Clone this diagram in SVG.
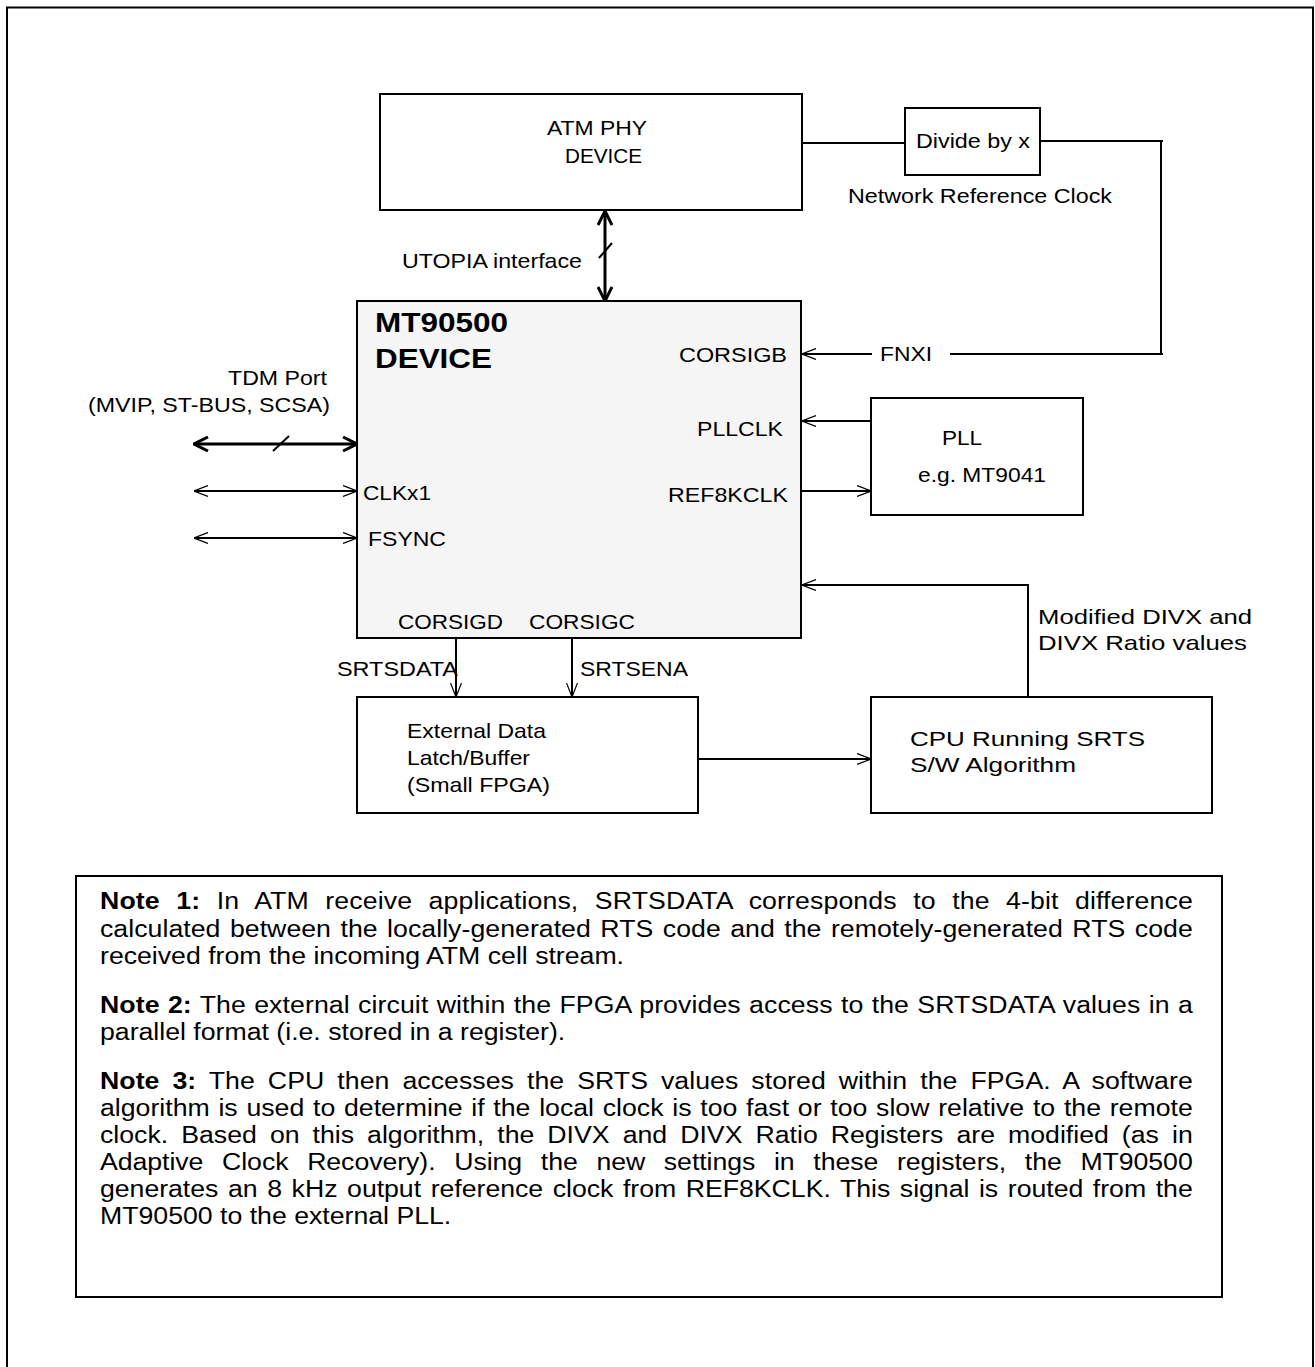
<svg xmlns="http://www.w3.org/2000/svg" width="1315" height="1367" viewBox="0 0 1315 1367">
<style>
.box{fill:#fff;stroke:#000;stroke-width:2}
.dev{fill:#f5f5f5;stroke:#000;stroke-width:2}
.ln{fill:none;stroke:#000;stroke-width:2}
.thk{fill:none;stroke:#000;stroke-width:3}
.t{font-family:"Liberation Sans",Arial,sans-serif;font-size:21px;fill:#000}
.tb{font-family:"Liberation Sans",Arial,sans-serif;font-size:28px;font-weight:bold;fill:#000}
.n{font-family:"Liberation Sans",Arial,sans-serif;font-size:23px;fill:#000}
.b{font-weight:bold}
</style>
<defs>
<marker id="arr" viewBox="0 0 14 12" refX="14" refY="6" markerWidth="14" markerHeight="12" orient="auto-start-reverse" markerUnits="userSpaceOnUse">
<path d="M0,0.5 L14,6 L0,11.5" fill="none" stroke="#000" stroke-width="1.2"/>
</marker>
<marker id="arrT" viewBox="0 0 16 16" refX="15" refY="8" markerWidth="16" markerHeight="16" orient="auto-start-reverse" markerUnits="userSpaceOnUse">
<path d="M1,1 L15,8 L1,15" fill="none" stroke="#000" stroke-width="3"/>
</marker>
</defs>
<rect width="1315" height="1367" fill="#fff"/>
<path d="M7,1367 V7.5 H1313 V1367" fill="none" stroke="#000" stroke-width="2"/>

<g id="connectors">
<line class="ln" x1="802" y1="143" x2="905" y2="143"/>
<line class="ln" x1="1040" y1="141" x2="1163" y2="141"/>
<line class="ln" x1="1161" y1="141" x2="1161" y2="355"/>
<line class="ln" x1="950" y1="354" x2="1163" y2="354"/>
<line class="ln" x1="872" y1="354" x2="802" y2="354" marker-end="url(#arr)"/>
<line class="thk" x1="605" y1="211" x2="605" y2="301" marker-start="url(#arrT)" marker-end="url(#arrT)"/>
<line class="ln" x1="599" y1="258" x2="612" y2="243"/>
<line class="thk" x1="194" y1="444" x2="357" y2="444" marker-start="url(#arrT)" marker-end="url(#arrT)"/>
<line class="ln" x1="273" y1="451" x2="289" y2="436"/>
<line class="ln" x1="194" y1="491" x2="357" y2="491" marker-start="url(#arr)" marker-end="url(#arr)"/>
<line class="ln" x1="194" y1="538" x2="357" y2="538" marker-start="url(#arr)" marker-end="url(#arr)"/>
<line class="ln" x1="871" y1="421" x2="802" y2="421" marker-end="url(#arr)"/>
<line class="ln" x1="802" y1="491" x2="871" y2="491" marker-end="url(#arr)"/>
<line class="ln" x1="456" y1="638" x2="456" y2="697" marker-end="url(#arr)"/>
<line class="ln" x1="572" y1="638" x2="572" y2="697" marker-end="url(#arr)"/>
<line class="ln" x1="698" y1="759" x2="871" y2="759" marker-end="url(#arr)"/>
<polyline class="ln" points="1028,697 1028,585 802,585" marker-end="url(#arr)"/>
<text class="t" x="402" y="268" textLength="180" lengthAdjust="spacingAndGlyphs">UTOPIA interface</text>
<text class="t" x="848" y="203" textLength="264" lengthAdjust="spacingAndGlyphs">Network Reference Clock</text>
<text class="t" x="880" y="361" textLength="52" lengthAdjust="spacingAndGlyphs">FNXI</text>
<text class="t" x="228" y="385" textLength="99" lengthAdjust="spacingAndGlyphs">TDM Port</text>
<text class="t" x="88" y="412" textLength="242" lengthAdjust="spacingAndGlyphs">(MVIP, ST-BUS, SCSA)</text>
<text class="t" x="337" y="676" textLength="121" lengthAdjust="spacingAndGlyphs">SRTSDATA</text>
<text class="t" x="580" y="676" textLength="108" lengthAdjust="spacingAndGlyphs">SRTSENA</text>
<text class="t" x="1038" y="624" textLength="214" lengthAdjust="spacingAndGlyphs">Modified DIVX and</text>
<text class="t" x="1038" y="650" textLength="209" lengthAdjust="spacingAndGlyphs">DIVX Ratio values</text>
</g>

<g id="atm-phy">
<rect class="box" x="380" y="94" width="422" height="116"/>
<text class="t" x="547" y="135" textLength="100" lengthAdjust="spacingAndGlyphs">ATM PHY</text>
<text class="t" x="565" y="163" textLength="77" lengthAdjust="spacingAndGlyphs">DEVICE</text>
</g>

<g id="divide">
<rect class="box" x="905" y="108" width="135" height="67"/>
<text class="t" x="916" y="148" textLength="114" lengthAdjust="spacingAndGlyphs">Divide by x</text>
</g>

<g id="mt90500">
<rect class="dev" x="357" y="301" width="444" height="337"/>
<text class="tb" x="375" y="332" textLength="133" lengthAdjust="spacingAndGlyphs">MT90500</text>
<text class="tb" x="375" y="368" textLength="117" lengthAdjust="spacingAndGlyphs">DEVICE</text>
<text class="t" x="679" y="362" textLength="108" lengthAdjust="spacingAndGlyphs">CORSIGB</text>
<text class="t" x="697" y="436" textLength="86" lengthAdjust="spacingAndGlyphs">PLLCLK</text>
<text class="t" x="668" y="502" textLength="120" lengthAdjust="spacingAndGlyphs">REF8KCLK</text>
<text class="t" x="363" y="500" textLength="68" lengthAdjust="spacingAndGlyphs">CLKx1</text>
<text class="t" x="368" y="546" textLength="78" lengthAdjust="spacingAndGlyphs">FSYNC</text>
<text class="t" x="398" y="629" textLength="105" lengthAdjust="spacingAndGlyphs">CORSIGD</text>
<text class="t" x="529" y="629" textLength="106" lengthAdjust="spacingAndGlyphs">CORSIGC</text>
</g>

<g id="pll">
<rect class="box" x="871" y="398" width="212" height="117"/>
<text class="t" x="942" y="445" textLength="40" lengthAdjust="spacingAndGlyphs">PLL</text>
<text class="t" x="918" y="482" textLength="128" lengthAdjust="spacingAndGlyphs">e.g. MT9041</text>
</g>

<g id="fpga">
<rect class="box" x="357" y="697" width="341" height="116"/>
<text class="t" x="407" y="738" textLength="139" lengthAdjust="spacingAndGlyphs">External Data</text>
<text class="t" x="407" y="765" textLength="123" lengthAdjust="spacingAndGlyphs">Latch/Buffer</text>
<text class="t" x="407" y="792" textLength="143" lengthAdjust="spacingAndGlyphs">(Small FPGA)</text>
</g>

<g id="cpu">
<rect class="box" x="871" y="697" width="341" height="116"/>
<text class="t" x="910" y="746" textLength="235" lengthAdjust="spacingAndGlyphs">CPU Running SRTS</text>
<text class="t" x="910" y="772" textLength="166" lengthAdjust="spacingAndGlyphs">S/W Algorithm</text>
</g>

<g id="notes">
<rect class="box" x="76" y="876" width="1146" height="421"/>
<text class="n" transform="matrix(1.16 0 0 1 100 909)" word-spacing="7.7" textLength="942"><tspan class="b">Note 1:</tspan> In ATM receive applications, SRTSDATA corresponds to the 4-bit difference</text>
<text class="n" transform="matrix(1.16 0 0 1 100 937)" word-spacing="1.75" textLength="942">calculated between the locally-generated RTS code and the remotely-generated RTS code</text>
<text class="n" transform="matrix(1.16 0 0 1 100 964)">received from the incoming ATM cell stream.</text>
<text class="n" transform="matrix(1.16 0 0 1 100 1013)" word-spacing="0.7" textLength="942"><tspan class="b">Note 2:</tspan> The external circuit within the FPGA provides access to the SRTSDATA values in a</text>
<text class="n" transform="matrix(1.16 0 0 1 100 1040)">parallel format (i.e. stored in a register).</text>
<text class="n" transform="matrix(1.16 0 0 1 100 1089)" word-spacing="4.76" textLength="942"><tspan class="b">Note 3:</tspan> The CPU then accesses the SRTS values stored within the FPGA. A software</text>
<text class="n" transform="matrix(1.16 0 0 1 100 1116)" word-spacing="1.14" textLength="942">algorithm is used to determine if the local clock is too fast or too slow relative to the remote</text>
<text class="n" transform="matrix(1.16 0 0 1 100 1143)" word-spacing="4.85" textLength="942">clock. Based on this algorithm, the DIVX and DIVX Ratio Registers are modified (as in</text>
<text class="n" transform="matrix(1.16 0 0 1 100 1170)" word-spacing="9.75" textLength="942">Adaptive Clock Recovery). Using the new settings in these registers, the MT90500</text>
<text class="n" transform="matrix(1.16 0 0 1 100 1197)" word-spacing="1.93" textLength="942">generates an 8 kHz output reference clock from REF8KCLK. This signal is routed from the</text>
<text class="n" transform="matrix(1.16 0 0 1 100 1224)">MT90500 to the external PLL.</text>
</g>
</svg>
